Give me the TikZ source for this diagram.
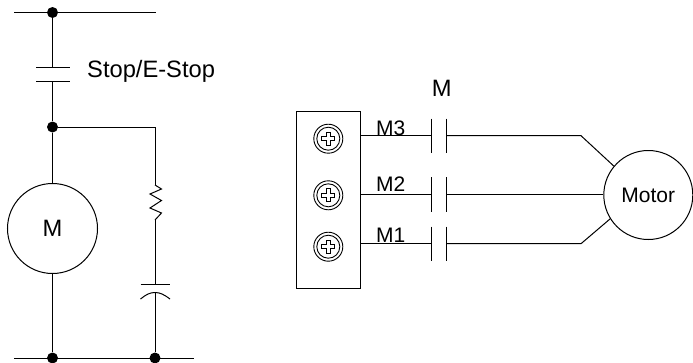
\documentclass[tikz,border=0pt]{standalone}
\usepackage{fontspec}
\setmainfont{Liberation Sans}
\tikzset{
	wire/.style={line width=1pt},
	dot/.style={circle, fill=black, inner sep=0pt, minimum size=11pt},
	machine/.style={circle, draw, line width=1pt, inner sep=0pt},
	biglabel/.style={font=\fontsize{23.7}{28}\selectfont, inner sep=0pt},
	tag/.style={font=\fontsize{21}{25}\selectfont, inner sep=0pt},
	screw/.pic={
		\draw[line width=0.9pt] (0,0) circle (14.5) (0,0) circle (11.5);
		\draw[line width=0.9pt] (-1.8,-6.5) -- (1.8,-6.5) -- (1.8,-1.8) -- (6.5,-1.8) -- (6.5,1.8) -- (1.8,1.8) -- (1.8,6.5) -- (-1.8,6.5) -- (-1.8,1.8) -- (-6.5,1.8) -- (-6.5,-1.8) -- (-1.8,-1.8) -- cycle;
	}
}
\begin{document}
\begin{tikzpicture}[x=1pt, y=-1pt]
		\useasboundingbox (0,0) rectangle (693,362);

		% Left circuit: buses and junctions
		\coordinate (topl) at (14,12.5);
		\coordinate (topr) at (156,12.5);
		\coordinate (botl) at (14,358);
		\coordinate (botr) at (194,358);
		\node[dot] (topdot) at (52.5,12.5) {};
		\node[dot] (middot) at (52.5,127) {};
		\node[dot] (botdot) at (52.5,358) {};
		\node[dot] (capdot) at (155,358) {};
		\draw[wire] (topl) -- (topr);
		\draw[wire] (botl) -- (botr);

		% Stop contact
		\coordinate (stopa) at (52.5,67);
		\coordinate (stopb) at (52.5,81.5);
		\draw[wire] (topdot) -- (stopa);
		\draw[wire] (stopb) -- (middot);
		\draw[wire] (36,67) -- (70,67);
		\draw[wire] (36,81.5) -- (70,81.5);
		\node[biglabel, anchor=base west] (stoplabel) at (87,77) {Stop/E-Stop};

		% Motor M
		\node[machine, minimum size=90pt, biglabel] (mcoil) at (52.5,228.5) {M};
		\draw[wire] (middot) -- (mcoil);
		\draw[wire] (mcoil) -- (botdot);

		% Resistor and capacitor
		\coordinate (rtop) at (155,185);
		\coordinate (rbot) at (155,220);
		\coordinate (capa) at (155,284);
		\coordinate (capb) at (155,292.5);
		\draw[wire] (middot) -| (rtop);
		\draw[wire] (rtop) -- (161.5,189) -- (150,194) -- (161.5,200.5) -- (150,208) -- (161.5,213) -- (rbot);
		\draw[wire] (rbot) -- (capa);
		\draw[wire] (140.5,284) -- (170,284);
		\draw[wire] (140.5,299) .. controls (146,294.5) and (150,292.5) .. (capb) .. controls (160,292.5) and (164,294.5) .. (170,299);
		\draw[wire] (capb) -- (capdot);

		% Right circuit
		\draw[wire] (296,111) rectangle (360,288);
		\node[biglabel, anchor=base] (mlabel) at (441.7,96.5) {M};
		\node[machine, minimum size=89pt, tag] (motor) at (648.3,195) {Motor};

		\foreach \row/\ypos/\ylab/\sy/\name in {a/135.7/135.5/138.7/M3, b/194.3/191.5/195.3/M2, c/243.7/242.5/246.7/M1}{
			\pic at (328.3,\sy) {screw};
			\coordinate (\row-start) at (360,\ypos);
			\coordinate (\row-left) at (431,\ypos);
			\coordinate (\row-right) at (446,\ypos);
			\draw[wire] (\row-start) -- (\row-left);
			\draw[wire] (431,\ypos-17.2) -- (431,\ypos+17.2);
			\draw[wire] (446,\ypos-17.2) -- (446,\ypos+17.2);
			\node[tag, anchor=base west] (\row-label) at (376,\ylab) {\name};
		}

		\draw[wire] (a-right) -- (581,135.7) -- (motor.140);
		\draw[wire] (b-right) -- (b-right -| motor.west);
		\draw[wire] (c-right) -- (581,243.7) -- (motor.212);
	\end{tikzpicture}
\end{document}
